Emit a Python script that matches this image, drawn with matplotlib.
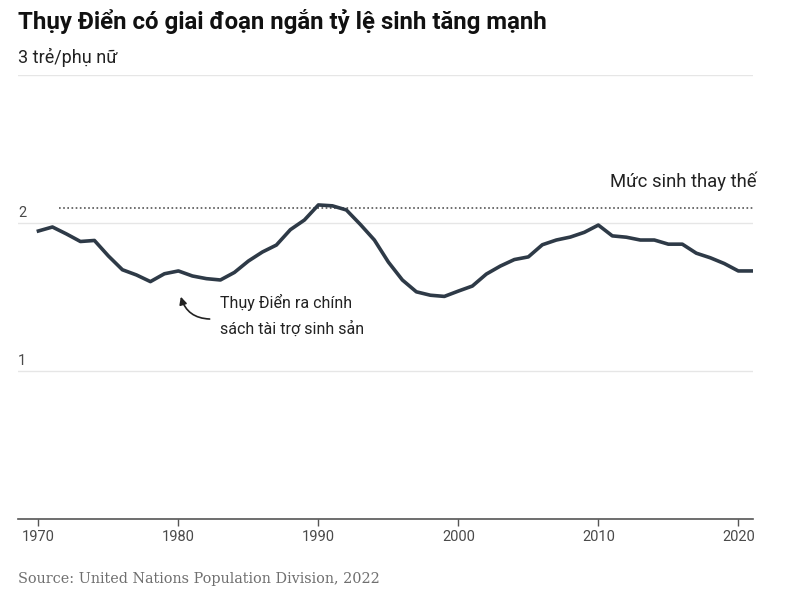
import matplotlib.pyplot as plt
import matplotlib as mpl

mpl.rcParams['font.family'] = ['Roboto', 'DejaVu Sans']

years = list(range(1970, 2022))
fertility = [1.946, 1.973, 1.926, 1.875, 1.882, 1.777, 1.684, 1.649, 1.604, 1.657,
             1.676, 1.642, 1.624, 1.615, 1.666, 1.743, 1.804, 1.851, 1.955, 2.02,
             2.122, 2.116, 2.088, 1.99, 1.885, 1.736, 1.615, 1.535, 1.512, 1.504,
             1.54, 1.574, 1.655, 1.709, 1.753, 1.771, 1.853, 1.885, 1.905, 1.937,
             1.986, 1.913, 1.904, 1.885, 1.885, 1.857, 1.857, 1.796, 1.765, 1.726,
             1.676, 1.676]
replacement = 2.1
yticks = [1, 2, 3]
xticks = [1970, 1980, 1990, 2000, 2010, 2020]

fig = plt.figure(figsize=(8.05, 6.12), dpi=100)
ax = fig.add_axes([18 / 805, 1 - 519 / 612, (753 - 18) / 805, (519 - 75) / 612])

for y in yticks:
    ax.axhline(y, color='#e6e6e6', lw=1, zorder=0)

ax.plot([1971.5, 2021.05], [replacement, replacement], color='#555555', lw=1.2,
        linestyle=(0, (1, 1.5)), zorder=1)
ax.plot(years, fertility, color='#2e3a47', lw=2.6, solid_joinstyle='round', zorder=3)

ax.set_xlim(1968.54, 2021.05)
ax.set_ylim(0, 3)
ax.set_xticks(xticks)
ax.set_xticklabels([str(x) for x in xticks], fontsize=10.5, color='#4a4a4a')
ax.set_yticks([])
ax.tick_params(axis='x', length=5, width=1, color='#555555', pad=3)
for s in ['top', 'right', 'left']:
    ax.spines[s].set_visible(False)
ax.spines['bottom'].set_color('#555555')
ax.spines['bottom'].set_linewidth(1.2)

for y in [1, 2]:
    ax.annotate(str(y), xy=(0, y), xycoords=('axes fraction', 'data'),
                xytext=(0, 2), textcoords='offset points', ha='left', va='bottom',
                fontsize=10.5, color='#4a4a4a')

ax.text(2021.3, 2.284, 'Mức sinh thay thế', ha='right', va='center', fontsize=13.3,
        color='#222222', clip_on=False)
ax.text(1983.0, 1.375, 'Thụy Điển ra chính\nsách tài trợ sinh sản', ha='left', va='center',
        fontsize=11.5, color='#222222', linespacing=1.75)
ax.annotate('', xy=(1980.12, 1.52), xytext=(1982.43, 1.351),
            arrowprops=dict(arrowstyle='-|>', color='#222222', lw=1.2,
                            connectionstyle='arc3,rad=-0.4', mutation_scale=11))

fig.text(18 / 805, 1 - 22 / 612, 'Thụy Điển có giai đoạn ngắn tỷ lệ sinh tăng mạnh',
         ha='left', va='center', fontsize=17.3, fontweight='bold', color='#111111')
fig.text(18 / 805, 1 - 57 / 612, '3 trẻ/phụ nữ', ha='left', va='center',
         fontsize=13, color='#222222')
fig.text(18 / 805, 1 - 579 / 612, 'Source: United Nations Population Division, 2022',
         ha='left', va='center', fontsize=10.35, color='#6f6f6f',
         family=['DejaVu Serif', 'Liberation Serif'])

fig.savefig('out.png', dpi=100)
